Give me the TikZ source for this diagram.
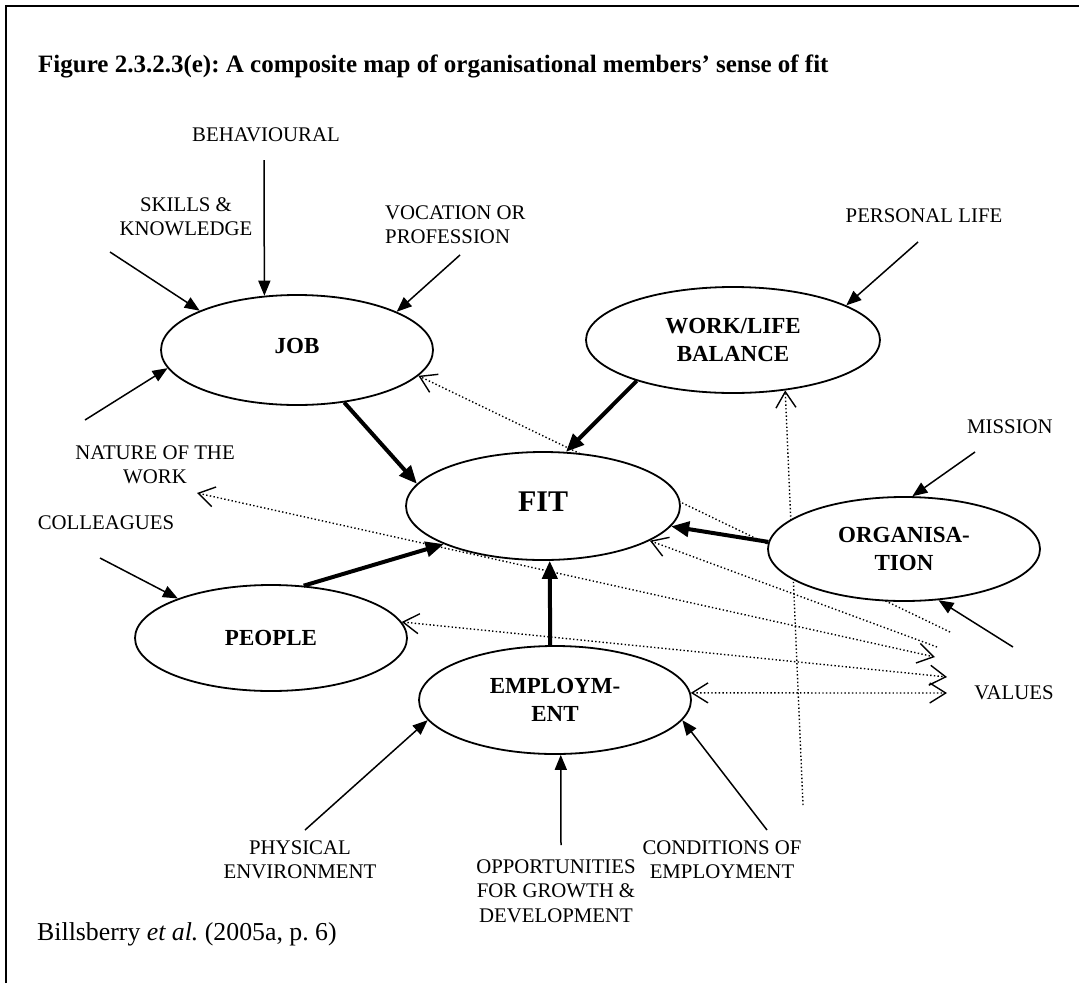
\documentclass[tikz,border=0pt]{standalone}
\usepackage{fontspec}
\setmainfont{Liberation Serif}
\usetikzlibrary{shapes.geometric,arrows.meta}
\newcommand\lblsize{\fontsize{20.8}{24.4}\selectfont}
\newcommand\boxsize{\fontsize{23}{27.5}\selectfont}
\frenchspacing
\begin{document}
\begin{tikzpicture}[x=1pt,y=-1pt,
  lbl/.style={font=\lblsize, align=center, inner sep=0pt},
  ell/.style={ellipse, draw, line width=1.8pt, fill=white, inner sep=0pt, font=\bfseries\boxsize, align=center},
  thinarr/.style={line width=1.5pt, -{Triangle[length=15pt,width=12pt]}},
  thickarr/.style={line width=4pt, -{Triangle[length=18pt,width=15pt]}},
  dotline/.style={line width=1.4pt, dash pattern=on 1.4pt off 2.3pt},
  barbtip/.tip={Straight Barb[length=16pt,width=20pt,line width=1.4pt]}
]
\useasboundingbox (0,0) rectangle (1079,983);
\draw[line width=2.5pt] (6,983) -- (6,6) -- (1079,6);

% title
\node[anchor=west, inner sep=0pt, font=\bfseries\fontsize{25}{30}\selectfont] (title) at (38,66) {Figure 2.3.2.3(e): A composite map of organisational members’ sense of fit};

% coordinates for dotted free ends
\coordinate (vJ) at (950,632);
\coordinate (vF) at (937,647);
\coordinate (vN) at (935,657);
\coordinate (nT) at (197,493);
\coordinate (vP) at (947,677);
\coordinate (vE) at (947,693);
\coordinate (vW) at (803,805);

% ellipse centres
\path (297,350) coordinate (jobC) (733,340) coordinate (wlC) (543,506) coordinate (fitC)
      (904,549) coordinate (orgC) (271,638) coordinate (peoC) (555,700) coordinate (empC);

% invisible outlines used to aim the dotted connectors
\begin{scope}
\node[ellipse, minimum width=272pt, minimum height=110pt, inner sep=0pt, line width=1.8pt] (jobB) at (jobC) {};
\node[ellipse, minimum width=294pt, minimum height=106pt, inner sep=0pt, line width=1.8pt] (wlB) at (wlC) {};
\node[ellipse, minimum width=274pt, minimum height=108pt, inner sep=0pt, line width=1.8pt] (fitB) at (fitC) {};
\node[ellipse, minimum width=272pt, minimum height=106pt, inner sep=0pt, line width=1.8pt] (peoB) at (peoC) {};
\node[ellipse, minimum width=272pt, minimum height=108pt, inner sep=0pt, line width=1.8pt] (empB) at (empC) {};
\end{scope}

% dotted connectors (under the ellipses)
\draw[dotline, -{barbtip}] (vJ) -- (jobB.-12);
\draw[dotline, -{barbtip}] (vF) -- (fitB.-18);
\draw[dotline, {barbtip}-{barbtip}] (nT) -- (vN);
\draw[dotline, {barbtip}-{barbtip}] (peoB.7) -- (vP);
\draw[dotline, {barbtip}-{barbtip}] (empB.3) -- (vE);
\draw[dotline, -{barbtip}] (vW) -- (wlB.-44);

% ellipses
\node[ell, minimum width=272pt, minimum height=110pt] (job) at (jobC) {\raisebox{8pt}{JOB}};
\node[ell, minimum width=294pt, minimum height=106pt] (wl) at (wlC) {WORK/LIFE\\BALANCE};
\node[ell, minimum width=274pt, minimum height=108pt, font=\bfseries\fontsize{30}{34}\selectfont] (fit) at (fitC) {\raisebox{9pt}{FIT}};
\node[ell, minimum width=272pt, minimum height=104pt] (org) at (orgC) {ORGANISA-\\TION};
\node[ell, minimum width=272pt, minimum height=106pt] (people) at (peoC) {PEOPLE};
\node[ell, minimum width=272pt, minimum height=108pt] (emp) at (empC) {EMPLOYM-\\ENT};

% labels
\node[lbl] (behav) at (266,135) {BEHAVIOURAL};
\node[lbl] (skills) at (186,217) {SKILLS \&\\KNOWLEDGE};
\node[lbl, align=left, anchor=west] (vocation) at (385,225) {VOCATION OR\\PROFESSION};
\node[lbl] (personal) at (924,216) {PERSONAL LIFE};
\node[lbl] (nature) at (155,465) {NATURE OF THE\\WORK};
\node[lbl] (colleagues) at (106,523) {COLLEAGUES};
\node[lbl] (mission) at (1010,427) {MISSION};
\node[lbl] (values) at (1014,693) {VALUES};
\node[lbl] (physical) at (300,860) {PHYSICAL\\ENVIRONMENT};
\node[lbl] (opport) at (556,891) {OPPORTUNITIES\\FOR GROWTH \&\\DEVELOPMENT};
\node[lbl] (conditions) at (722,860) {CONDITIONS OF\\EMPLOYMENT};
\node[anchor=west, inner sep=0pt, font=\fontsize{25.8}{30}\selectfont] (source) at (37,934) {Billsberry \textit{et al.} (2005a, p. 6)};

% free ends of the solid arrows
\coordinate (behavS) at (264,160);
\coordinate (skillsS) at (110,252);
\coordinate (vocS) at (460,255);
\coordinate (natS) at (85,420);
\coordinate (persS) at (918,242);
\coordinate (colS) at (100,558);
\coordinate (misS) at (975,452);
\coordinate (valS) at (1013,647);
\coordinate (phyS) at (305,830);
\coordinate (oppS) at (561,845);
\coordinate (conS) at (767,830);

% thin solid arrows
\draw[thinarr] (behavS) -- (job.121.7);
\draw[thinarr] (skillsS) -- (job.158.4);
\draw[thinarr] (vocS) -- (job.21.2);
\draw[thinarr] (natS) -- (job.188.8);
\draw[thinarr] (persS) -- (wl.17.6);
\draw[thinarr] (colS) -- (people.157.4);
\draw[thinarr] (misS) -- (org.81.2);
\draw[thinarr] (valS) -- (org.304);
\draw[thinarr] (phyS) -- (emp.189.7);
\draw[thinarr] (oppS) -- (emp.276.3);
\draw[thinarr] (conS) -- (emp.351.9);

% thick arrows into FIT
\draw[thickarr] (job.-48.4) -- (fit.170);
\draw[thickarr] (wl.203) -- (fit.67.6);
\draw[thickarr] (org.177) -- (fit.-9.5);
\draw[thickarr] (people.58.1) -- (fit.201.1);
\draw[thickarr] (emp.95.3) -- (fit.277.4);
\end{tikzpicture}
\end{document}
